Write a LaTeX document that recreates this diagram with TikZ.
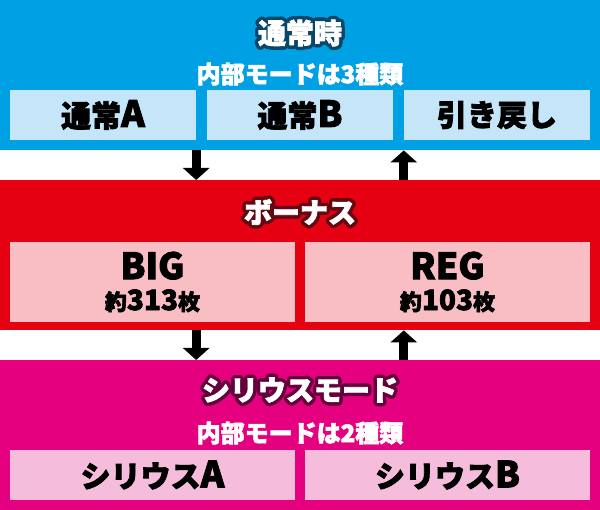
\documentclass[tikz,border=0pt]{standalone}
\usepackage{fontspec}
\setmainfont{Noto Sans CJK JP}[BoldFeatures={FakeBold=2.5}]
\usetikzlibrary{arrows.meta}
\definecolor{nvblue}{HTML}{00A0E4}
\definecolor{nvlight}{HTML}{C4E6F8}
\definecolor{nvdark}{HTML}{08466A}
\definecolor{bnred}{HTML}{E50012}
\definecolor{bnlight}{HTML}{F8BEC4}
\definecolor{bndark}{HTML}{640812}
\definecolor{srpink}{HTML}{E4007F}
\definecolor{srlight}{HTML}{F6BCDB}
\definecolor{srdark}{HTML}{64003C}
\newcommand{\latn}[1]{{\fontsize{36}{36}\selectfont #1}}
\newcommand{\cnt}[1]{{\fontsize{28}{28}\selectfont #1}}
% white title with a dark rim
\newcommand{\titlenode}[4]{%
    \foreach \r in {1.6,3.4} \foreach \a in {0,15,...,345}
        \node[title,text=#3,shift={(\a:\r pt)}] at #2 {#4};
    \node[title] (#1) at #2 {#4};}

\begin{document}
\begin{tikzpicture}[x=1pt,y=-1pt]
    \tikzstyle{band}=[rectangle,inner sep=0pt,minimum width=600pt,minimum height=150pt,anchor=north west]
    \tikzstyle{cell}=[rectangle,inner sep=0pt,minimum height=50pt,font=\bfseries\fontsize{30}{30}\selectfont]
    \tikzstyle{title}=[text=white,font=\bfseries\fontsize{28}{28}\selectfont]
    \tikzstyle{sub}=[text=white,font=\bfseries\fontsize{24}{24}\selectfont]
    \tikzstyle{flow}=[line width=9pt,-{Triangle[width=26pt,length=12pt]}]
    \useasboundingbox (0,0) rectangle (600,510);
    % three bands
    \node[band,fill=nvblue] (normal) at (0,0) {};
    \node[band,fill=bnred] (bonus) at (0,180) {};
    \node[band,fill=srpink] (sirius) at (0,360) {};
    % normal
    \titlenode{normaltitle}{(300,33)}{nvdark}{通常時}
    \node[sub] (normalsub) at (300,74) {内部モードは3種類};
    \node[cell,fill=nvlight,minimum width=186pt] (tsA) at (103,115) {通常\latn{A}};
    \node[cell,fill=nvlight,minimum width=186pt] (tsB) at (300,115) {通常\latn{B}};
    \node[cell,fill=nvlight,minimum width=186pt] (tsC) at (497,115) {引き戻し};
    % bonus
    \titlenode{bonustitle}{(300,212)}{bndark}{ボーナス}
    \node[cell,fill=bnlight,minimum width=285pt,minimum height=80pt,align=center,font=\bfseries\fontsize{22}{22}\selectfont] (big) at (152.5,282) {\latn{BIG}\\[9pt]約\cnt{313}枚};
    \node[cell,fill=bnlight,minimum width=285pt,minimum height=80pt,align=center,font=\bfseries\fontsize{22}{22}\selectfont] (reg) at (447.5,282) {\latn{REG}\\[9pt]約\cnt{103}枚};
    % sirius
    \titlenode{siriustitle}{(300,390)}{srdark}{シリウスモード}
    \node[sub] (siriussub) at (300,433) {内部モードは2種類};
    \node[cell,fill=srlight,minimum width=285pt] (srA) at (152.5,475) {シリウス\latn{A}};
    \node[cell,fill=srlight,minimum width=285pt] (srB) at (447.5,475) {シリウス\latn{B}};
    % arrows
    \draw[flow] (normal.south -| tsA.east) -- (bonus.north -| tsA.east);
    \draw[flow] (bonus.north -| tsC.west) -- (normal.south -| tsC.west);
    \draw[flow] (bonus.south -| tsA.east) -- (sirius.north -| tsA.east);
    \draw[flow] (sirius.north -| tsC.west) -- (bonus.south -| tsC.west);
\end{tikzpicture}
\end{document}
